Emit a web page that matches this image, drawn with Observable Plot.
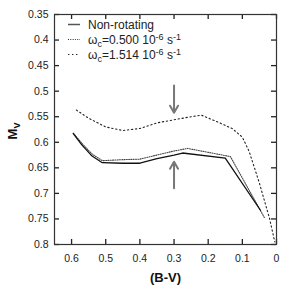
<!DOCTYPE html>
<html>
<head>
<meta charset="utf-8">
<script src="https://cdn.jsdelivr.net/npm/d3@7"></script>
<script src="https://cdn.jsdelivr.net/npm/@observablehq/plot@0.6"></script>
<style>
html,body{margin:0;padding:0;background:#fff;}
#chart svg{display:block;}
</style>
</head>
<body>
<div id="chart"></div>
<script>
// B-V and M_V values
const bvNonRot = [0.595, 0.57, 0.54, 0.51, 0.45, 0.40, 0.35, 0.30, 0.275, 0.15, 0.047];
const mvNonRot = [0.583, 0.605, 0.627, 0.640, 0.641, 0.641, 0.632, 0.625, 0.621, 0.631, 0.733];

const bvOmega1 = [0.595, 0.57, 0.54, 0.51, 0.45, 0.40, 0.35, 0.30, 0.26, 0.135, 0.035];
const mvOmega1 = [0.582, 0.602, 0.623, 0.636, 0.634, 0.633, 0.625, 0.617, 0.612, 0.628, 0.748];

const bvOmega2 = [0.586, 0.55, 0.50, 0.45, 0.40, 0.35, 0.30, 0.25, 0.22, 0.18, 0.13, 0.10, 0.08, 0.05, 0.02, 0.005];
const mvOmega2 = [0.537, 0.553, 0.570, 0.577, 0.573, 0.562, 0.556, 0.550, 0.547, 0.558, 0.573, 0.590, 0.618, 0.68, 0.75, 0.795];

const xTicks = [0, 0.1, 0.2, 0.3, 0.4, 0.5, 0.6];
const yTicks = [0.35, 0.4, 0.45, 0.5, 0.55, 0.6, 0.65, 0.7, 0.75, 0.8];

// arrows at B-V = 0.3
const arrowX = [0.3, 0.3];
const arrowFrom = [0.489, 0.690];
const arrowTo = [0.542, 0.638];

const toRows = (xs, ys) => xs.map((x, i) => ({x, y: ys[i]}));
const nonRot = toRows(bvNonRot, mvNonRot);
const om1 = toRows(bvOmega1, mvOmega1);
const om2 = toRows(bvOmega2, mvOmega2);
const arrows = arrowX.map((x, i) => ({x, y1: arrowFrom[i], y2: arrowTo[i]}));

const W = 297, H = 291;
const mL = 54, mR = 21, mT = 14, mB = 47;
const fw = W - mL - mR, fh = H - mT - mB;
const fmt = d => d === 0 ? "0" : String(+d.toFixed(2));
const FONT = "'Liberation Sans', Arial, sans-serif";

const plot = Plot.plot({
  width: W, height: H,
  marginLeft: mL, marginRight: mR, marginTop: mT, marginBottom: mB,
  style: {fontFamily: FONT, fontSize: "10.5px", color: "#222", background: "#fff"},
  x: {domain: [0, 0.65], reverse: true},
  y: {domain: [0.35, 0.8], reverse: true},
  marks: [
    Plot.axisX(xTicks, {tickSize: 0, tickPadding: 10, tickFormat: fmt, label: null, fontSize: 10.5}),
    Plot.axisY(yTicks, {tickSize: 0, tickPadding: 6, tickFormat: fmt, label: null, fontSize: 10.5}),
    Plot.tickX(xTicks, {x: d => d, insetTop: fh - 5, stroke: "#222", strokeWidth: 1.3}),
    Plot.tickX(xTicks, {x: d => d, insetBottom: fh - 5, stroke: "#222", strokeWidth: 1.3}),
    Plot.tickY(yTicks, {y: d => d, insetRight: fw - 5, stroke: "#222", strokeWidth: 1.3}),
    Plot.tickY(yTicks, {y: d => d, insetLeft: fw - 5, stroke: "#222", strokeWidth: 1.3}),
    Plot.line(om1, {x: "x", y: "y", stroke: "#444", strokeWidth: 1.1, strokeDasharray: "1,1.3"}),
    Plot.line(nonRot, {x: "x", y: "y", stroke: "#111", strokeWidth: 1.3}),
    Plot.line(om2, {x: "x", y: "y", stroke: "#222", strokeWidth: 1.1, strokeDasharray: "1.4,2.6"}),
    Plot.arrow(arrows, {x1: "x", x2: "x", y1: "y1", y2: "y2", stroke: "#777", strokeWidth: 2, headLength: 6}),
    Plot.frame({stroke: "#333", strokeWidth: 1.2}),
    Plot.text(["(B-V)"], {frameAnchor: "bottom", dy: 37, fontWeight: "bold", fontSize: 13, fill: "#111"})
  ]
});

const svg = d3.select(plot);
// Y axis label M_V
const yl = svg.append("text")
  .attr("transform", `translate(17,${mT + fh / 2 + 2}) rotate(-90)`)
  .attr("text-anchor", "middle")
  .style("font-family", FONT)
  .style("font-weight", "bold")
  .style("font-size", "13px")
  .attr("fill", "#111");
yl.append("tspan").text("M");
yl.append("tspan").style("font-size", "9px").attr("dy", 3).text("V");

// Legend
const legend = [
  {label: [["Non-rotating", 0]], dash: null, stroke: "#555", w: 1.5},
  {label: [["ω", 0], ["c", 3, 9], ["=0.500 10", -3], ["-6", -4, 9], [" s", 4], ["-1", -4, 9]], dash: "1,1.3", stroke: "#333", w: 1.1},
  {label: [["ω", 0], ["c", 3, 9], ["=1.514 10", -3], ["-6", -4, 9], [" s", 4], ["-1", -4, 9]], dash: "1.4,2.6", stroke: "#222", w: 1.1}
];
const lg = svg.append("g").attr("fill", "#222");
legend.forEach((d, i) => {
  const y = 24.5 + i * 15;
  lg.append("line").attr("x1", 68).attr("x2", 80).attr("y1", y).attr("y2", y)
    .attr("stroke", d.stroke).attr("stroke-width", d.w).attr("stroke-dasharray", d.dash);
  const t = lg.append("text").attr("x", 88).attr("y", y + 4)
    .style("text-anchor", "start").style("font-family", FONT).style("font-size", "12px");
  d.label.forEach(([s, dy, fs]) => {
    const sp = t.append("tspan").attr("dy", dy).text(s);
    if (fs) sp.style("font-size", fs + "px");
  });
});

document.getElementById("chart").appendChild(plot);
</script>
</body>
</html>
